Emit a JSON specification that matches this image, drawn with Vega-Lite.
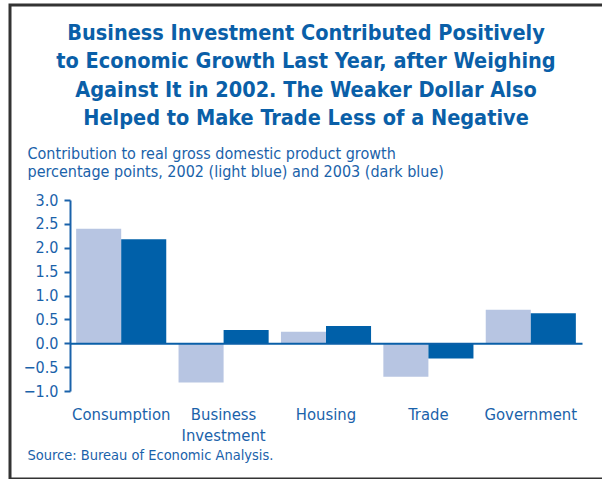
{
  "$schema": "https://vega.github.io/schema/vega-lite/v6.json",
  "autosize": "none",
  "padding": {"left": 10, "top": 5, "right": 0, "bottom": 0},
  "width": 600,
  "height": 474,
  "background": "white",
  "title": {
    "text": ["Business Investment Contributed Positively", "to Economic Growth Last Year, after Weighing", "Against It in 2002. The Weaker Dollar Also", "Helped to Make Trade Less of a Negative"],
    "anchor": "middle",
    "frame": "group",
    "orient": "top",
    "baseline": "top",
    "offset": -124.5,
    "dx": -4,
    "font": "DejaVu Sans Condensed, Liberation Sans Narrow, Roboto",
    "fontSize": 21.5,
    "fontWeight": "bold",
    "lineHeight": 28.5,
    "color": "#0a5fa8"
  },
  "data": {
    "values": [
      {"category": "Consumption", "year": "2002", "value": 2.4},
      {"category": "Consumption", "year": "2003", "value": 2.18},
      {"category": "Business Investment", "year": "2002", "value": -0.82},
      {"category": "Business Investment", "year": "2003", "value": 0.28},
      {"category": "Housing", "year": "2002", "value": 0.24},
      {"category": "Housing", "year": "2003", "value": 0.36},
      {"category": "Trade", "year": "2002", "value": -0.7},
      {"category": "Trade", "year": "2003", "value": -0.32},
      {"category": "Government", "year": "2002", "value": 0.7},
      {"category": "Government", "year": "2003", "value": 0.63}
    ]
  },
  "mark": {"type": "bar"},
  "encoding": {
    "x": {
      "field": "category",
      "type": "nominal",
      "sort": ["Consumption", "Business Investment", "Housing", "Trade", "Government"],
      "scale": {"range": [60, 572], "paddingInner": 0.12, "paddingOuter": 0.06},
      "axis": {
        "orient": "bottom",
        "offset": -135.75,
        "title": "Source: Bureau of Economic Analysis.",
        "titleAnchor": "start",
        "titleAlign": "left",
        "titleBaseline": "top",
        "titleX": 17,
        "titleY": 105.5,
        "titleFont": "DejaVu Sans Condensed, Liberation Sans Narrow, Roboto",
        "titleFontSize": 14.5,
        "titleFontWeight": "normal",
        "titleColor": "#1a62aa",
        "labelAngle": 0,
        "labelFont": "DejaVu Sans Condensed, Liberation Sans Narrow, Roboto",
        "labelFontSize": 16.5,
        "labelColor": "#1a62aa",
        "labelBaseline": "top",
        "labelPadding": 63.5,
        "labelLineHeight": 21,
        "labelExpr": "datum.label == 'Business Investment' ? ['Business', 'Investment'] : datum.label",
        "ticks": false,
        "domainColor": "#0a5fa8",
        "domainWidth": 2,
        "zindex": 1
      }
    },
    "xOffset": {
      "field": "year",
      "type": "nominal",
      "scale": {"paddingInner": 0, "paddingOuter": 0}
    },
    "y": {
      "field": "value",
      "type": "quantitative",
      "scale": {"domain": [-1, 3], "range": [386, 195], "nice": false, "zero": false},
      "axis": {
        "offset": -60,
        "values": [-1, -0.5, 0, 0.5, 1, 1.5, 2, 2.5, 3],
        "format": ".1f",
        "grid": false,
        "title": ["Contribution to real gross domestic product growth", "percentage points, 2002 (light blue) and 2003 (dark blue)"],
        "titleAngle": 0,
        "titleAnchor": "start",
        "titleAlign": "left",
        "titleBaseline": "top",
        "titleX": -43,
        "titleY": 140,
        "titleFont": "DejaVu Sans Condensed, Liberation Sans Narrow, Roboto",
        "titleFontSize": 16,
        "titleFontWeight": "normal",
        "titleLineHeight": 18,
        "titleColor": "#1a62aa",
        "labelFont": "DejaVu Sans Condensed, Liberation Sans Narrow, Roboto",
        "labelFontSize": 16,
        "labelColor": "#1a62aa",
        "labelPadding": 6,
        "tickSize": 6,
        "tickWidth": 2,
        "tickColor": "#1a62aa",
        "domainColor": "#1a62aa",
        "domainWidth": 2
      }
    },
    "color": {
      "field": "year",
      "type": "nominal",
      "scale": {"domain": ["2002", "2003"], "range": ["#b7c5e2", "#0060a9"]},
      "legend": null
    }
  },
  "config": {
    "view": {"stroke": "#333333", "strokeWidth": 3, "fill": "white"}
  }
}
